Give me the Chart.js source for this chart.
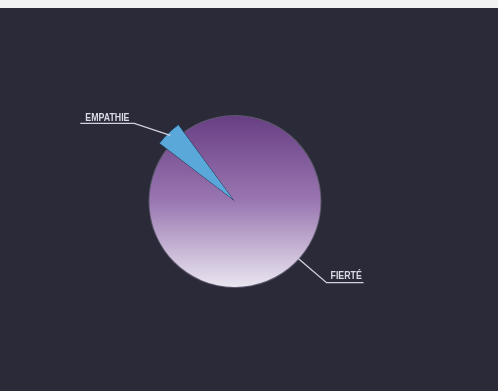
<!DOCTYPE html>
<html>
<head>
<meta charset="utf-8">
<script src="https://cdn.jsdelivr.net/npm/chart.js@4"></script>
<style>
html,body{margin:0;padding:0;background:#2b2a39;width:498px;height:391px;overflow:hidden;}
#strip{position:absolute;left:0;top:0;width:498px;height:8px;background:#f2f2f2;}
canvas{position:absolute;left:0;top:0;}
</style>
</head>
<body>
<canvas id="c" width="498" height="391"></canvas>
<div id="strip"></div>
<script>
const categories = ["EMPATHIE", "FIERTÉ"];
const values = [4.5, 95.5];

const sliceColors = {
  empathie: "#5aa8da",
  fierteTop: "#673e83",
  fierteMid: "#9a77b1",
  fierteBottom: "#ebe7f1"
};

const extendSlice = {
  id: 'extendSlice',
  afterDatasetsUpdate(chart) {
    const meta = chart.getDatasetMeta(0);
    const a = meta.data[0];
    if (a) a.outerRadius = a.outerRadius + 10;
  }
};

const bgPlugin = {
  id: 'bg',
  beforeDraw(chart) {
    const ctx = chart.ctx;
    ctx.save();
    ctx.fillStyle = '#2b2a39';
    ctx.fillRect(0, 0, chart.width, chart.height);
    const meta = chart.getDatasetMeta(0);
    const a = meta.data[1];
    if (a) {
      ctx.beginPath();
      ctx.arc(a.x, a.y, a.outerRadius + 1, 0, Math.PI * 2);
      ctx.fillStyle = 'rgba(210,200,230,0.3)';
      ctx.fill();
    }
    ctx.restore();
  }
};

function condensedText(ctx, text, x, y) {
  ctx.save();
  ctx.translate(x, y);
  ctx.scale(0.8, 1);
  ctx.fillText(text, 0, 0);
  ctx.restore();
}

const labelPlugin = {
  id: 'leaderLabels',
  afterDraw(chart) {
    const ctx = chart.ctx;
    const meta = chart.getDatasetMeta(0);
    ctx.save();
    ctx.strokeStyle = '#d2d2de';
    ctx.fillStyle = '#dadae4';
    ctx.lineWidth = 1.3;
    ctx.font = 'bold 11px "Liberation Sans", Arial, sans-serif';
    ctx.textBaseline = 'alphabetic';
    ctx.textAlign = 'left';
    // EMPATHIE
    const e = meta.data[0];
    const em = (e.startAngle + e.endAngle) / 2;
    const ex = e.x + Math.cos(em) * (e.outerRadius - 3);
    const ey = e.y + Math.sin(em) * (e.outerRadius - 3);
    ctx.beginPath();
    ctx.moveTo(ex, ey);
    ctx.lineTo(ex - 36, ey - 12);
    ctx.lineTo(ex - 90, ey - 12);
    ctx.stroke();
    condensedText(ctx, categories[0], ex - 85, ey - 14);
    // FIERTÉ
    const f = meta.data[1];
    const fa = (-90 + 132) * Math.PI / 180;
    const fx = f.x + Math.cos(fa) * f.outerRadius;
    const fy = f.y + Math.sin(fa) * f.outerRadius;
    ctx.beginPath();
    ctx.moveTo(fx, fy);
    ctx.lineTo(fx + 28, fy + 24);
    ctx.lineTo(fx + 65, fy + 24);
    ctx.stroke();
    condensedText(ctx, categories[1], fx + 32, fy + 20);
    ctx.restore();
  }
};

new Chart(document.getElementById('c'), {
  type: 'pie',
  data: {
    labels: categories,
    datasets: [{
      data: values,
      backgroundColor: (ctx) => {
        if (ctx.dataIndex === 0) return sliceColors.empathie;
        const area = ctx.chart.chartArea;
        if (!area) return sliceColors.fierteMid;
        const g = ctx.chart.ctx.createLinearGradient(0, area.top, 0, area.bottom);
        g.addColorStop(0, sliceColors.fierteTop);
        g.addColorStop(0.5, sliceColors.fierteMid);
        g.addColorStop(1, sliceColors.fierteBottom);
        return g;
      },
      borderColor: ['#1d3550', 'rgba(0,0,0,0)'],
      borderWidth: [1, 0],
      hoverBorderWidth: 0,
      borderJoinStyle: 'miter'
    }]
  },
  options: {
    responsive: false,
    animation: false,
    rotation: -52.5,
    layout: { padding: { left: 149, top: 115, right: 177, bottom: 103 } },
    plugins: {
      legend: { display: false },
      tooltip: { enabled: false }
    },
    events: []
  },
  plugins: [extendSlice, bgPlugin, labelPlugin]
});
</script>
</body>
</html>
